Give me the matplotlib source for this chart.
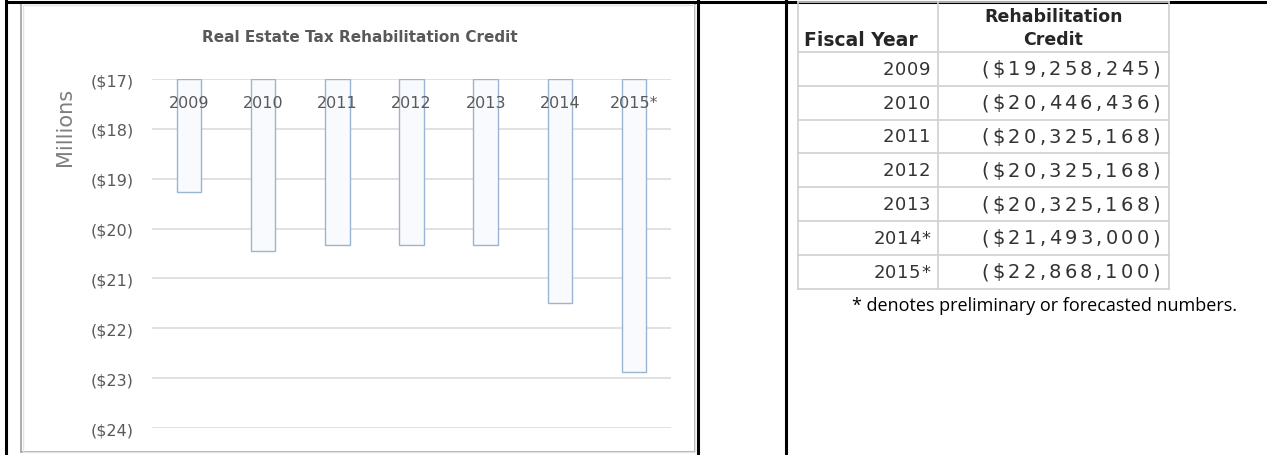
import numpy as np
import matplotlib
matplotlib.use('Agg')
import matplotlib.pyplot as plt
from matplotlib.ticker import FuncFormatter
from matplotlib.transforms import blended_transform_factory
from matplotlib.font_manager import FontProperties, findfont, get_font

years = ['2009', '2010', '2011', '2012', '2013', '2014', '2015*']
credit = [-19258245, -20446436, -20325168, -20325168, -20325168, -21493000, -22868100]
table_years = ['2009', '2010', '2011', '2012', '2013', '2014*', '2015*']
yticks = [-17, -18, -19, -20, -21, -22, -23, -24]

W, H = 1267, 456
fig = plt.figure(figsize=(W / 100, H / 100), dpi=100)
fig.patch.set_facecolor('white')

# full-figure overlay in pixel coords for borders, table and free text
bg = fig.add_axes([0, 0, 1, 1])
bg.set_xlim(0, W)
bg.set_ylim(H, 0)
bg.axis('off')

def px_axes(x0, y0, x1, y1):
    return [x0 / W, 1 - y1 / H, (x1 - x0) / W, (y1 - y0) / H]

grey = '#595959'

# document table lines
bg.plot([6, W], [2.5, 2.5], color='black', lw=2.2, solid_capstyle='butt')
bg.plot([6, 6], [2, H], color='black', lw=2.2)
bg.plot([698, 698], [2, H], color='black', lw=2.2)
bg.plot([786, 786], [2, H], color='black', lw=2.2)

# chart frame
bg.add_patch(plt.Rectangle((21, 4), 674, 449, fill=False, ec='#a0a0a0', lw=1.2))
bg.add_patch(plt.Rectangle((23, 6), 672, 447, fill=False, ec='#e4e4e4', lw=1.0))

ax = fig.add_axes(px_axes(152, 80, 671, 429))
credit_m = np.array(credit) / 1e6
x = np.arange(len(years))
ax.bar(x, credit_m + 17, bottom=-17, width=0.33, color='#f8fafd',
       edgecolor='#9ab5d2', linewidth=1.0, zorder=3)
ax.set_xlim(-0.5, len(years) - 0.5)
ax.set_ylim(-24, -17)
ax.set_yticks(yticks)
ax.yaxis.set_major_formatter(FuncFormatter(lambda v, p: '(${:.0f})'.format(abs(v))))
ax.tick_params(axis='y', length=0, pad=13, labelsize=11.5, labelcolor=grey)
ax.set_xticks([])
ax.grid(axis='y', color='#d9d9d9', lw=1.1, zorder=0)
for s in ax.spines.values():
    s.set_visible(False)
ax.patch.set_alpha(0)

trans = blended_transform_factory(ax.transData, ax.transAxes)
for i, lab in enumerate(years):
    ax.text(i, 1 - 23 / 349, lab, transform=trans, ha='center', va='center',
            fontsize=11.5, color=grey, zorder=4)

bg.text(360, 37, 'Real Estate Tax Rehabilitation Credit', ha='center', va='center',
        fontsize=11, fontweight='bold', color=grey)
bg.text(65, 127, 'Millions', rotation=90, ha='center', va='center',
        fontsize=15, color='#7f7f7f')

# data table on the right
tl, tm, tr = 798, 938, 1169
top, head_bot, row_h = 3, 53, 33.8
line_c = '#d0d0d0'
txt_c = '#333333'
bottom = head_bot + row_h * len(table_years)
for xx in (tl, tm, tr):
    bg.plot([xx, xx], [top, bottom], color=line_c, lw=1.2)
bg.plot([tl, tr], [top, top], color=line_c, lw=1.2)
bg.plot([tl, tr], [head_bot, head_bot], color=line_c, lw=1.2)

ft = get_font(findfont(FontProperties(family='DejaVu Sans')))

def tracked(xr, y, s, size, track, **kw):
    # right-aligned text with extra letter spacing (the scan has loose tracking)
    ft.set_size(size, 100)
    pos = xr
    for ch in reversed(s):
        adv = ft.load_char(ord(ch)).linearHoriAdvance / 65536
        pos -= adv
        bg.text(pos, y, ch, ha='left', va='center', fontsize=size, **kw)
        pos -= track

for i in range(len(table_years)):
    yb = head_bot + row_h * (i + 1)
    bg.plot([tl, tr], [yb, yb], color=line_c, lw=1.2)
    yc = yb - row_h / 2
    tracked(tm - 8, yc, table_years[i], 13, 0.5, color=txt_c)
    tracked(tr - 9, yc, '(${:,})'.format(abs(credit[i])), 14, 3.3, color=txt_c)

bg.text(tl + 6, 40, 'Fiscal Year', ha='left', va='center', fontsize=13.5,
        fontweight='bold', color='#262626')
bg.text((tm + tr) / 2, 17, 'Rehabilitation', ha='center', va='center', fontsize=12.5,
        fontweight='bold', color='#262626')
bg.text((tm + tr) / 2, 40, 'Credit', ha='center', va='center', fontsize=12.5,
        fontweight='bold', color='#262626')

bg.text(1045, bottom + 16, '* denotes preliminary or forecasted numbers.', ha='center',
        va='center', fontsize=13, color='black', family='Open Sans')

fig.savefig('out.png', dpi=100)
